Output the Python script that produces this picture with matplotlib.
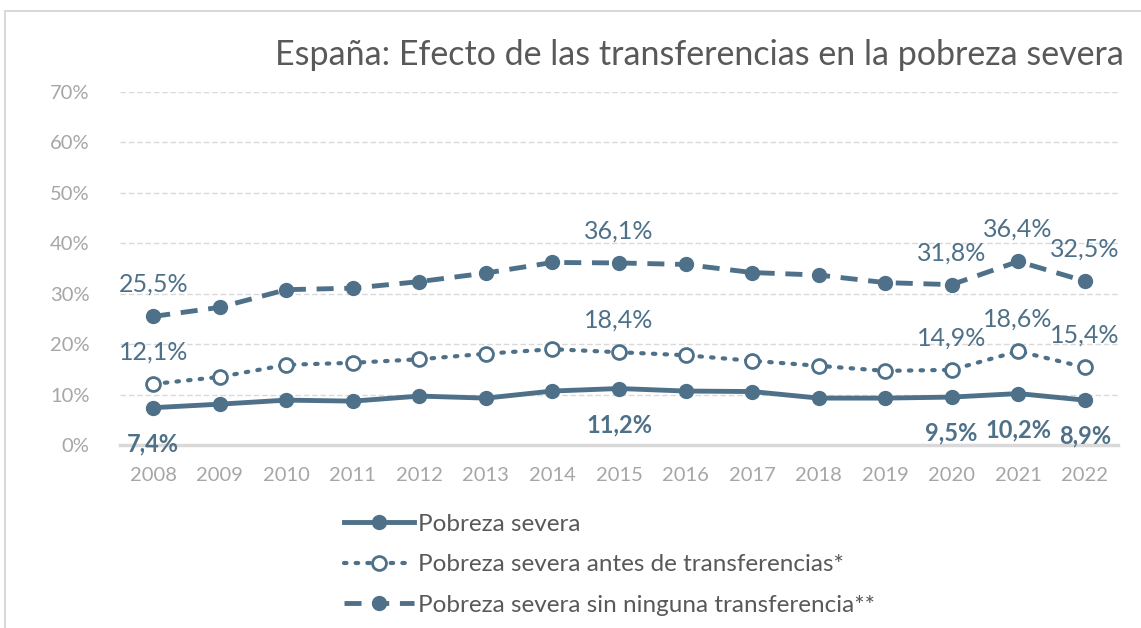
import matplotlib.pyplot as plt
import matplotlib.ticker as mticker
from matplotlib.patches import Rectangle

plt.rcParams['font.family'] = ['Lato', 'DejaVu Sans']

years = [2008, 2009, 2010, 2011, 2012, 2013, 2014, 2015,
         2016, 2017, 2018, 2019, 2020, 2021, 2022]

# % of population in severe poverty
pobreza = [7.4, 8.1, 8.9, 8.7, 9.7, 9.3, 10.7, 11.2,
           10.7, 10.6, 9.3, 9.3, 9.5, 10.2, 8.9]
antes = [12.1, 13.5, 15.9, 16.3, 17.0, 18.1, 19.0, 18.4,
         17.8, 16.7, 15.7, 14.7, 14.9, 18.6, 15.4]
sin_ninguna = [25.5, 27.3, 30.8, 31.1, 32.4, 34.1, 36.2, 36.1,
               35.8, 34.2, 33.7, 32.2, 31.8, 36.4, 32.5]

# years that carry a value label
labelled = [2008, 2015, 2020, 2021, 2022]

series_names = ['Pobreza severa',
                'Pobreza severa antes de transferencias*',
                'Pobreza severa sin ninguna transferencia**']

c = '#4e7189'
grey = '#a6a6a6'

fig = plt.figure(figsize=(11.41, 6.28), dpi=100)
fig.patches.append(Rectangle((5 / 1141, -0.1), 1.2, 1.1 - 11 / 628,
                             transform=fig.transFigure, fill=False,
                             edgecolor='#d9d9d9', linewidth=1.5))

ax = fig.add_axes([120 / 1141, 1 - 445 / 628, 998 / 1141, 353 / 628])
x = list(range(len(years)))

ax.plot(x, pobreza, '-', color=c, lw=3.5, marker='o', ms=10,
        mfc=c, mec=c, label=series_names[0])
ax.plot(x, antes, ':', color=c, lw=3, marker='o', ms=10,
        mfc='white', mec=c, mew=2, label=series_names[1],
        dashes=(0.6, 2.2), dash_capstyle='round')
ax.plot(x, sin_ninguna, '--', color=c, lw=3.5, marker='o', ms=10,
        mfc=c, mec=c, label=series_names[2], dashes=(3.5, 2.2))

def fmt(v):
    return f'{v:.1f}%'.replace('.', ',')

for i, yr in enumerate(years):
    if yr not in labelled:
        continue
    ax.annotate(fmt(pobreza[i]), (i, pobreza[i]),
                xytext=(0, -26), textcoords='offset points', ha='center',
                va='center', fontsize=17, fontweight='bold', color=c)
    ax.annotate(fmt(antes[i]), (i, antes[i]),
                xytext=(0, 23), textcoords='offset points', ha='center',
                va='center', fontsize=18, color=c)
    ax.annotate(fmt(sin_ninguna[i]), (i, sin_ninguna[i]),
                xytext=(0, 23), textcoords='offset points', ha='center',
                va='center', fontsize=18, color=c)

ax.set_xlim(-0.5, len(years) - 0.5)
ax.set_ylim(0, 70)
ax.set_yticks(range(0, 71, 10))
ax.yaxis.set_major_formatter(mticker.FuncFormatter(lambda v, p: f'{v:.0f}%'))
ax.set_xticks(x)
ax.set_xticklabels([str(y) for y in years])
ax.tick_params(length=0, labelsize=14.5, colors=grey)
ax.tick_params(axis='x', pad=16)
ax.tick_params(axis='y', pad=22)

ax.grid(axis='y', color='#d9d9d9', linestyle=(0, (4, 2)), lw=1)
ax.set_axisbelow(True)
for s in ['top', 'right', 'left']:
    ax.spines[s].set_visible(False)
ax.spines['bottom'].set_color('#d9d9d9')
ax.spines['bottom'].set_linewidth(2.5)

fig.text(0.985, 1 - 55 / 628, 'España: Efecto de las transferencias en la pobreza severa',
         ha='right', va='center', fontsize=24.5, color='#595959')

leg = fig.legend(loc='upper left', bbox_to_anchor=(322 / 1141, 1 - 492 / 628),
                 frameon=False, fontsize=17.5, handlelength=2.9, labelspacing=0.8,
                 handletextpad=0.15)
for t in leg.get_texts():
    t.set_color('#595959')

fig.savefig('out.png', dpi=100)
